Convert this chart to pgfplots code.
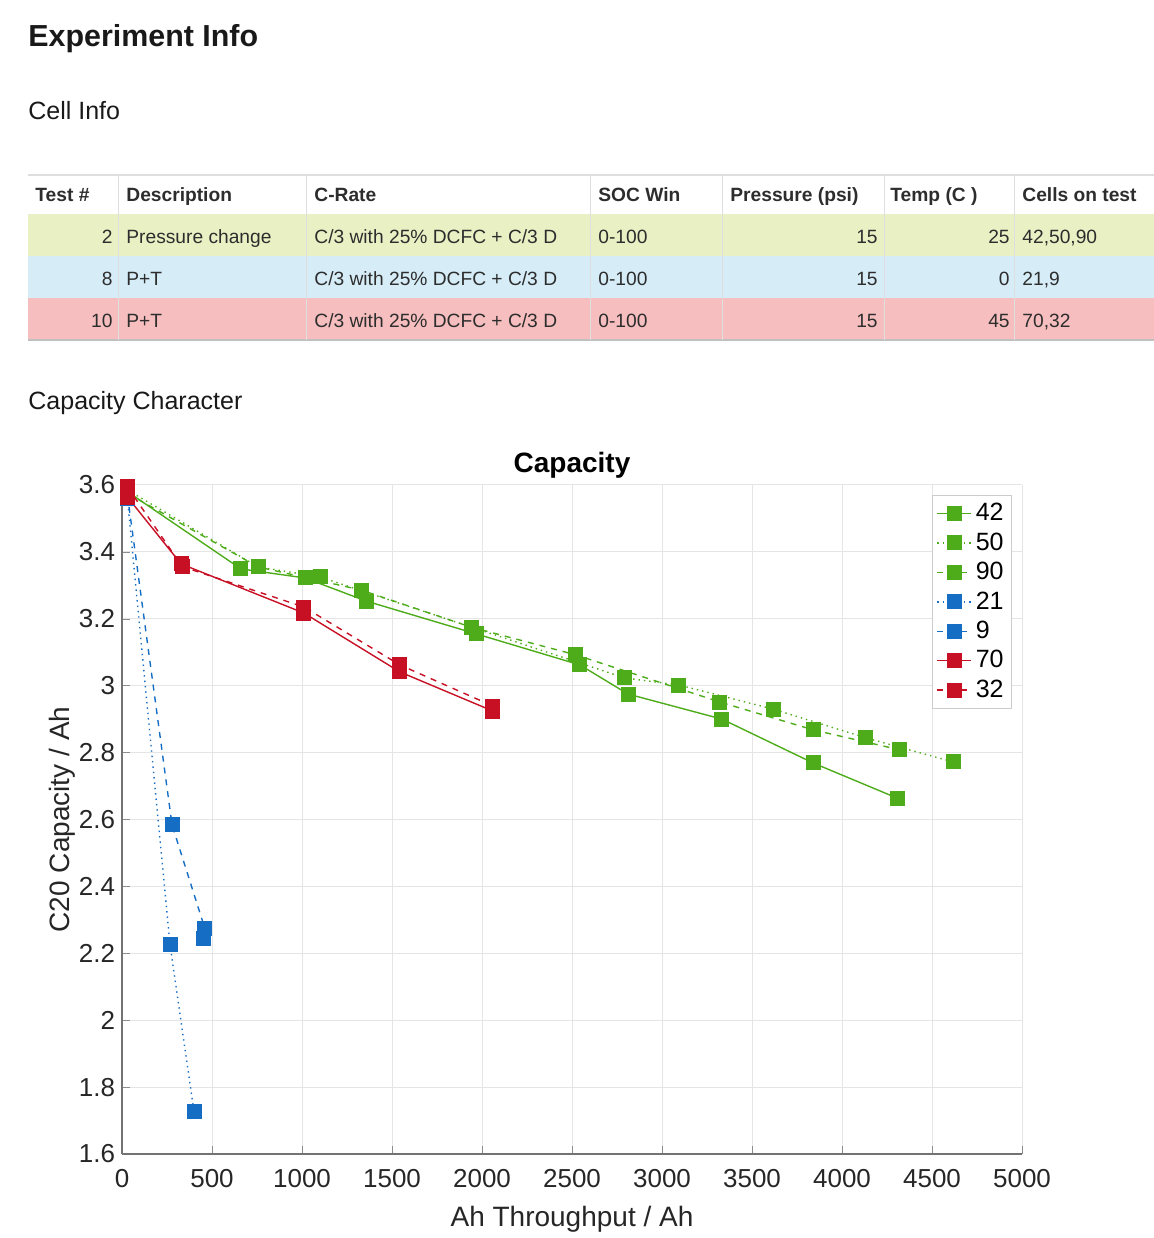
\documentclass[border=0pt]{standalone}
\usepackage{fontspec}
\setmainfont{Liberation Sans}
\usepackage{pgfplots}
\pgfplotsset{compat=1.18}
\definecolor{cgreen}{RGB}{78,172,26}
\definecolor{cblue}{RGB}{22,110,196}
\definecolor{cred}{RGB}{200,16,36}
\definecolor{rowA}{RGB}{233,241,196}
\definecolor{rowB}{RGB}{214,237,248}
\definecolor{rowC}{RGB}{246,190,190}
\definecolor{tline}{RGB}{222,222,222}
\definecolor{ttext}{RGB}{45,45,45}
\newcommand\tf{\fontsize{9.6bp}{12bp}\selectfont}
\begin{document}
\begin{tikzpicture}[x=0.5bp,y=0.5bp]
\path[use as bounding box] (0,0) rectangle (1154,1238);
% headings
\node[anchor=base west,inner sep=0pt,font=\fontsize{15.2bp}{18bp}\selectfont\bfseries,text=black!90] at (28,1191) {Experiment Info};
\node[anchor=base west,inner sep=0pt,font=\fontsize{12.5bp}{15bp}\selectfont,text=black!90] at (28,1118) {Cell Info};
\node[anchor=base west,inner sep=0pt,font=\fontsize{12.5bp}{15bp}\selectfont,text=black!90] at (28,828) {Capacity Character};
% table backgrounds
\fill[rowA] (28,982) rectangle (1154,1024);
\fill[rowB] (28,940) rectangle (1154,982);
\fill[rowC] (28,898) rectangle (1154,940);
\draw[tline,line width=0.6bp] (28,1063) -- (1154,1063);
\draw[black!25,line width=0.8bp] (28,898) -- (1154,898);
\foreach \xx in {118,306,590,722,884,1014} {\draw[tline,line width=0.5bp] (\xx,898) -- (\xx,1063);}
% header
\begin{scope}[every node/.style={anchor=base west,inner sep=0pt,font=\tf\bfseries,text=ttext}]
\node at (35,1036) {Test \#};
\node at (126,1036) {Description};
\node at (314,1036) {C-Rate};
\node at (598,1036) {SOC Win};
\node at (730,1036) {Pressure (psi)};
\node at (890,1036) {Temp (C )};
\node at (1022,1036) {Cells on test};
\end{scope}
\begin{scope}[every node/.style={inner sep=0pt,font=\tf,text=ttext}]
\foreach \yy/\t/\d/\tp/\c in {994/2/Pressure change/25/{42,50,90}, 952/8/P+T/0/{21,9}, 910/10/P+T/45/{70,32}} {
 \node[anchor=base east] at (113,\yy) {\t};
 \node[anchor=base west] at (126,\yy) {\d};
 \node[anchor=base west] at (314,\yy) {C/3 with 25\% DCFC + C/3 D};
 \node[anchor=base west] at (598,\yy) {0-100};
 \node[anchor=base east] at (878,\yy) {15};
 \node[anchor=base east] at (1010,\yy) {\tp};
 \node[anchor=base west] at (1022,\yy) {\c};
}
\end{scope}
\begin{axis}[
 at={(61bp,42bp)}, anchor=south west,
 scale only axis, width=450bp, height=334.5bp,
 xmin=0, xmax=5000, ymin=1.6, ymax=3.6,
 xtick={0,500,1000,1500,2000,2500,3000,3500,4000,4500,5000},
 ytick={1.6,1.8,2,2.2,2.4,2.6,2.8,3,3.2,3.4,3.6},
 /pgf/number format/assume math mode=true,
 /pgf/number format/1000 sep={},
 axis lines=left,
 axis line style={-, black!55, line width=0.8bp},
 tick align=inside, major tick length=4bp,
 tick style={black!45},
 grid=major, major grid style={black!10, line width=0.5bp},
 ticklabel style={font=\fontsize{13bp}{15bp}\selectfont, text=black!85},
 xticklabel style={yshift=-4bp},
 xlabel={Ah Throughput / Ah}, ylabel={C20 Capacity / Ah},
 label style={font=\fontsize{14bp}{16bp}\selectfont, text=black!85},
 xlabel style={yshift=-2.5bp},
 ylabel style={yshift=-5bp},
 title={Capacity}, title style={font=\fontsize{14bp}{16bp}\selectfont\bfseries, yshift=-6bp},
 clip=false,
 legend style={at={(1-5/450,1-5/334.5)}, anchor=north east, draw=black!20, fill=white,
   font=\fontsize{12.5bp}{15bp}\selectfont, row sep=0.5bp, inner sep=2bp},
 legend cell align=left,
 every axis plot/.append style={line width=0.7bp, mark=square*, mark size=3.4bp},
]
\addplot[cgreen, solid, mark options={solid,fill=cgreen}] coordinates {(30,3.58)(661,3.349)(1017,3.322)(1356,3.253)(1967,3.155)(2544,3.062)(2811,2.975)(3333,2.90)(3839,2.769)(4306,2.664)};
\addlegendentry{42}
\addplot[cgreen, dotted, mark options={solid,fill=cgreen}] coordinates {(30,3.585)(756,3.355)(1100,3.325)(2794,3.023)(3094,3.002)(3617,2.930)(4133,2.844)(4617,2.772)};
\addlegendentry{50}
\addplot[cgreen, dashed, mark options={solid,fill=cgreen}] coordinates {(30,3.575)(756,3.355)(1328,3.286)(1939,3.175)(2522,3.092)(3322,2.951)(3839,2.868)(4322,2.808)};
\addlegendentry{90}
\addplot[cblue, dotted, mark options={solid,fill=cblue}] coordinates {(30,3.56)(267,2.225)(400,1.726)};
\addlegendentry{21}
\addplot[cblue, dashed, mark options={solid,fill=cblue}] coordinates {(30,3.57)(278,2.584)(461,2.273)(450,2.243)};
\addlegendentry{9}
\addplot[cred, solid, mark options={solid,fill=cred}] coordinates {(30,3.564)(328,3.364)(1011,3.217)(1544,3.041)(2061,2.924)};
\addlegendentry{70}
\addplot[cred, dashed, mark options={solid,fill=cred}] coordinates {(30,3.594)(335,3.356)(1011,3.235)(1544,3.062)(2061,2.939)};
\addlegendentry{32}
\end{axis}
\end{tikzpicture}
\end{document}
